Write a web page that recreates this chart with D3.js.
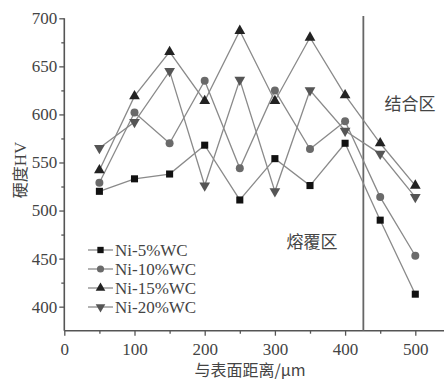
<!DOCTYPE html>
<html>
<head>
<meta charset="utf-8">
<script src="https://cdn.jsdelivr.net/npm/d3@7/dist/d3.min.js"></script>
<style>
  body { margin: 0; background: #fff; }
  svg { display: block; }
</style>
</head>
<body>
<div id="chart"></div>
<script>
const distances = [50, 100, 150, 200, 250, 300, 350, 400, 450, 500];
const ni5 = [520, 533, 538, 568, 511, 554, 526, 570, 490, 413];
const ni10 = [529, 602, 570, 635, 544, 625, 564, 593, 514, 453];
const ni15 = [542, 619, 665, 614, 687, 614, 680, 620, 570, 526];
const ni20 = [565, 592, 645, 526, 636, 520, 625, 583, 559, 514];
const seriesNames = ["Ni-5%WC", "Ni-10%WC", "Ni-15%WC", "Ni-20%WC"];
const xTicks = [0, 100, 200, 300, 400, 500];
const yTicks = [400, 450, 500, 550, 600, 650, 700];
const boundary = 426;

const size = { width: 444, height: 384 };
const margin = { left: 64, top: 18, right: 0, bottom: 54 };

const series = [
    { name: seriesNames[0], values: ni5, symbol: d3.symbolSquare, symSize: 50, fill: "#111" },
    { name: seriesNames[1], values: ni10, symbol: d3.symbolCircle, symSize: 50, fill: "#6a6a6a" },
    { name: seriesNames[2], values: ni15, symbol: d3.symbolTriangle, symSize: 50, fill: "#222" },
    { name: seriesNames[3], values: ni20, symbol: d3.symbolTriangle, symSize: 50, fill: "#555", flip: true }
];

const svg = d3.select("#chart").append("svg")
    .attr("width", size.width)
    .attr("height", size.height);

const xScale = d3.scaleLinear()
    .domain([0, 500])
    .range([margin.left + 0.3, 415.3]);

const yScale = d3.scaleLinear()
    .domain([375, 700])
    .range([330.7, 18.3]);

const serif = "'Liberation Serif', 'Times New Roman', serif";
const cjk = "'Noto Sans CJK SC', sans-serif";
const axisColor = "#555";

// x axis, runs to the right edge
svg.append("line")
    .attr("x1", xScale(0)).attr("x2", size.width)
    .attr("y1", yScale(375)).attr("y2", yScale(375))
    .attr("stroke", axisColor).attr("stroke-width", 1.6);

const xAxis = d3.axisBottom(xScale).tickValues(xTicks).tickSize(5).tickFormat(d3.format("d"));
const gx = svg.append("g")
    .attr("transform", "translate(0," + yScale(375) + ")")
    .call(xAxis);
gx.select(".domain").remove();

const xMinor = d3.axisBottom(xScale).tickValues([50, 150, 250, 350, 450]).tickSize(3).tickFormat("");
const gxm = svg.append("g")
    .attr("transform", "translate(0," + yScale(375) + ")")
    .call(xMinor);
gxm.select(".domain").remove();

const yAxis = d3.axisLeft(yScale).tickValues(yTicks).tickSize(5).tickFormat(d3.format("d"));
const gy = svg.append("g")
    .attr("transform", "translate(" + xScale(0) + ",0)")
    .call(yAxis);
gy.select(".domain").attr("d", "M0," + yScale(700) + "V" + yScale(375));

const yMinor = d3.axisLeft(yScale).tickValues([425, 475, 525, 575, 625, 675]).tickSize(3).tickFormat("");
const gym = svg.append("g")
    .attr("transform", "translate(" + xScale(0) + ",0)")
    .call(yMinor);
gym.select(".domain").remove();

svg.selectAll(".domain").attr("stroke", axisColor).attr("stroke-width", 1.6);
svg.selectAll(".tick line").attr("stroke", axisColor).attr("stroke-width", 1.3);
svg.selectAll(".tick text")
    .attr("font-family", serif)
    .attr("font-size", 17)
    .attr("fill", "#444");
gx.selectAll(".tick text").attr("dy", "0.95em");
gy.selectAll(".tick text").attr("x", -7);

// boundary between cladding and bonding zone
svg.append("line")
    .attr("x1", xScale(boundary)).attr("x2", xScale(boundary))
    .attr("y1", 16).attr("y2", yScale(375))
    .attr("stroke", "#666").attr("stroke-width", 1.8);

const line = d3.line()
    .x((d, i) => xScale(distances[i]))
    .y(d => yScale(d));

series.forEach(s => {
    svg.append("path")
        .datum(s.values)
        .attr("d", line)
        .attr("fill", "none")
        .attr("stroke", "#8a8a8a")
        .attr("stroke-width", 1.3);
});

series.forEach(s => {
    const sym = d3.symbol().type(s.symbol).size(s.symSize);
    svg.append("g").selectAll("path")
        .data(s.values)
        .join("path")
        .attr("d", sym)
        .attr("fill", s.fill)
        .attr("transform", (d, i) => "translate(" + xScale(distances[i]) + "," + yScale(d) + ")" + (s.flip ? " rotate(180)" : ""));
});

// legend
const legend = svg.append("g").attr("transform", "translate(88,250)");
series.forEach((s, i) => {
    const row = legend.append("g").attr("transform", "translate(0," + (i * 19) + ")");
    row.append("line")
        .attr("x1", 0).attr("x2", 25)
        .attr("stroke", "#8a8a8a").attr("stroke-width", 1.3);
    row.append("path")
        .attr("d", d3.symbol().type(s.symbol).size(s.symSize * 0.8)())
        .attr("fill", s.fill)
        .attr("transform", "translate(12.5,0)" + (s.flip ? " rotate(180)" : ""));
    row.append("text")
        .attr("x", 27)
        .attr("y", 0)
        .attr("dy", "0.35em")
        .attr("font-family", serif)
        .attr("font-size", 17)
        .attr("fill", "#444")
        .text(s.name);
});

// zone labels
svg.append("text")
    .attr("x", 312).attr("y", 248)
    .attr("text-anchor", "middle")
    .attr("font-family", cjk).attr("font-size", 17)
    .attr("fill", "#444")
    .text("熔覆区");

svg.append("text")
    .attr("x", 410).attr("y", 110)
    .attr("text-anchor", "middle")
    .attr("font-family", cjk).attr("font-size", 17)
    .attr("fill", "#444")
    .text("结合区");

// axis titles
svg.append("text")
    .attr("x", 250).attr("y", 376)
    .attr("text-anchor", "middle")
    .attr("font-family", cjk).attr("font-size", 16)
    .attr("fill", "#444")
    .text("与表面距离/μm");

const yTitle = svg.append("text")
    .attr("transform", "translate(26,170) rotate(-90)")
    .attr("text-anchor", "middle")
    .attr("font-size", 16)
    .attr("fill", "#444");
yTitle.append("tspan").attr("font-family", cjk).text("硬度");
yTitle.append("tspan").attr("font-family", serif).attr("font-size", 17).text("HV");
</script>
</body>
</html>
